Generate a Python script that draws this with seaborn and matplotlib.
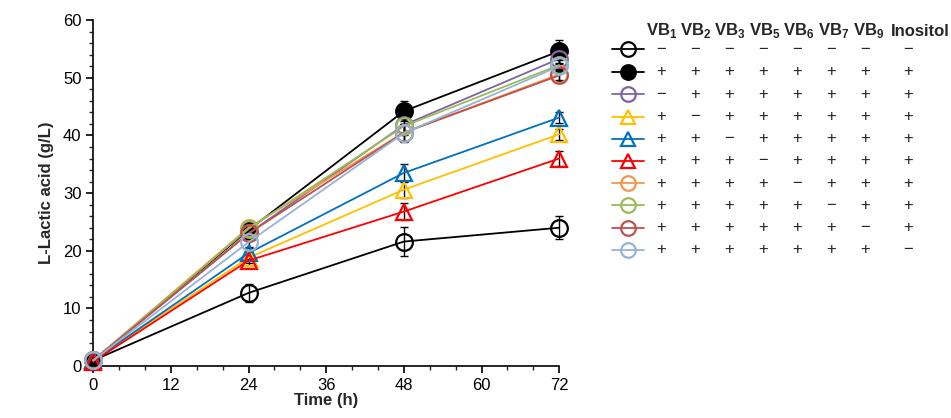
import numpy as np
import pandas as pd
import seaborn as sns
import matplotlib
matplotlib.use("Agg")
from matplotlib import pyplot as plt
from matplotlib.ticker import MultipleLocator

sns.set_style("ticks")
plt.rcParams['font.family'] = ['Liberation Sans', 'DejaVu Sans']
plt.rcParams['mathtext.fontset'] = 'custom'
plt.rcParams['mathtext.rm'] = 'Liberation Sans'
plt.rcParams['mathtext.bf'] = 'Liberation Sans:bold'

time_h = [0, 24, 48, 72]

series_names = ['Control', 'All', '-VB1', '-VB2', '-VB3', '-VB5', '-VB6', '-VB7', '-VB9', '-Inositol']
means = {
    'Control':   [1.0, 12.7, 21.6, 24.0],
    'All':       [1.0, 23.6, 44.2, 54.6],
    '-VB1':      [1.0, 23.0, 41.8, 53.3],
    '-VB2':      [1.0, 18.8, 30.6, 40.2],
    '-VB3':      [1.0, 19.6, 33.5, 43.1],
    '-VB5':      [0.8, 18.3, 26.8, 36.0],
    '-VB6':      [1.0, 24.0, 40.5, 50.6],
    '-VB7':      [1.0, 23.8, 41.6, 52.2],
    '-VB9':      [1.0, 23.0, 40.5, 50.4],
    '-Inositol': [1.0, 21.5, 40.4, 52.0],
}
errors = {
    'Control':   [0.3, 1.5, 2.5, 2.0],
    'All':       [0.3, 1.0, 1.7, 2.0],
    '-VB1':      [0.3, 1.0, 1.5, 1.0],
    '-VB2':      [0.3, 1.0, 1.5, 1.0],
    '-VB3':      [0.3, 1.0, 1.5, 1.0],
    '-VB5':      [0.3, 1.0, 1.5, 1.3],
    '-VB6':      [0.3, 1.0, 1.5, 1.0],
    '-VB7':      [0.3, 1.0, 1.5, 1.0],
    '-VB9':      [0.3, 1.0, 1.5, 1.0],
    '-Inositol': [0.3, 1.0, 1.5, 1.0],
}
colors = ['#000000', '#000000', '#8064A2', '#FFC000', '#0070C0', '#FF0000',
          '#F79646', '#9BBB59', '#C0504D', '#95B3D7']
markers = ['o', 'o', 'o', '^', '^', '^', 'o', 'o', 'o', 'o']
filled = [False, True, False, False, False, False, False, False, False, False]

header = [r'VB$_{\mathbf{1}}$', r'VB$_{\mathbf{2}}$', r'VB$_{\mathbf{3}}$', r'VB$_{\mathbf{5}}$',
          r'VB$_{\mathbf{6}}$', r'VB$_{\mathbf{7}}$', r'VB$_{\mathbf{9}}$', 'Inositol']
signs = [
    '--------',
    '++++++++',
    '-+++++++',
    '+-++++++',
    '++-+++++',
    '+++-++++',
    '++++-+++',
    '+++++-++',
    '++++++-+',
    '+++++++-',
]

rows = []
for name in series_names:
    for t, m, e in zip(time_h, means[name], errors[name]):
        rows.append({'time': t, 'lactic': m, 'err': e, 'group': name})
df = pd.DataFrame(rows)

fig = plt.figure(figsize=(9.51, 4.18), dpi=100)
ax = fig.add_axes([0.098, 0.124, 0.490, 0.828])

# error bars first (black)
for name in series_names:
    d = df[df['group'] == name]
    eb = ax.errorbar(d['time'], d['lactic'], yerr=d['err'], fmt='none', ecolor='black',
                     elinewidth=1, capsize=3, capthick=1, zorder=2)
    for art in eb.lines[1] + eb.lines[2]:
        art.set_clip_on(False)

# series in legend order, later ones drawn on top
for i, name in enumerate(series_names):
    d = df[df['group'] == name]
    sns.lineplot(data=d, x='time', y='lactic', ax=ax, color=colors[i], marker=markers[i],
                 markersize=12,
                 markerfacecolor=colors[i] if filled[i] else 'none',
                 markeredgecolor=colors[i], markeredgewidth=1.6,
                 linewidth=1.3, legend=False, zorder=3, clip_on=False)

ax.set_xlim(0, 72)
ax.set_ylim(0, 60)
ax.xaxis.set_major_locator(MultipleLocator(12))
ax.xaxis.set_minor_locator(MultipleLocator(4))
ax.yaxis.set_major_locator(MultipleLocator(10))
ax.yaxis.set_minor_locator(MultipleLocator(2))
ax.tick_params(which='major', direction='out', length=5, width=1.2, labelsize=12, colors='black')
ax.tick_params(which='minor', direction='out', length=3, width=1.0)
for s in ['top', 'right']:
    ax.spines[s].set_visible(False)
for s in ['left', 'bottom']:
    ax.spines[s].set_linewidth(1.2)
    ax.spines[s].set_color('black')
    ax.spines[s].set_zorder(1)
ax.set_xlabel('Time (h)', fontsize=12, fontweight='bold', labelpad=0)
ax.set_ylabel('L-Lactic acid (g/L)', fontsize=12, fontweight='bold', labelpad=6)

# table legend on the right, in pixel coordinates
lax = fig.add_axes([0, 0, 1, 1])
lax.set_xlim(0, 951)
lax.set_ylim(418, 0)
lax.axis('off')
col_x = [661, 695, 729, 763, 797, 831, 865, 908]
head_x = [662, 696, 730, 765, 799, 834, 869, 920]
row_y = [49.3, 71.7, 94, 116.5, 138.5, 161, 183.3, 205.3, 227.5, 249.5]
for x, h in zip(head_x, header):
    lax.text(x, 31, h, ha='center', va='center', fontsize=12, fontweight='bold')
for i, y in enumerate(row_y):
    lax.plot([612, 628, 644], [y, y, y], color=colors[i], linewidth=1.3,
             marker=markers[i], markevery=[1], markersize=10.5,
             markerfacecolor=colors[i] if filled[i] else 'none',
             markeredgecolor=colors[i], markeredgewidth=1.6)
    for x, s in zip(col_x, signs[i]):
        lax.text(x, y, '+' if s == '+' else '\u2212', ha='center', va='center', fontsize=12)

fig.savefig('out.png', dpi=100)
